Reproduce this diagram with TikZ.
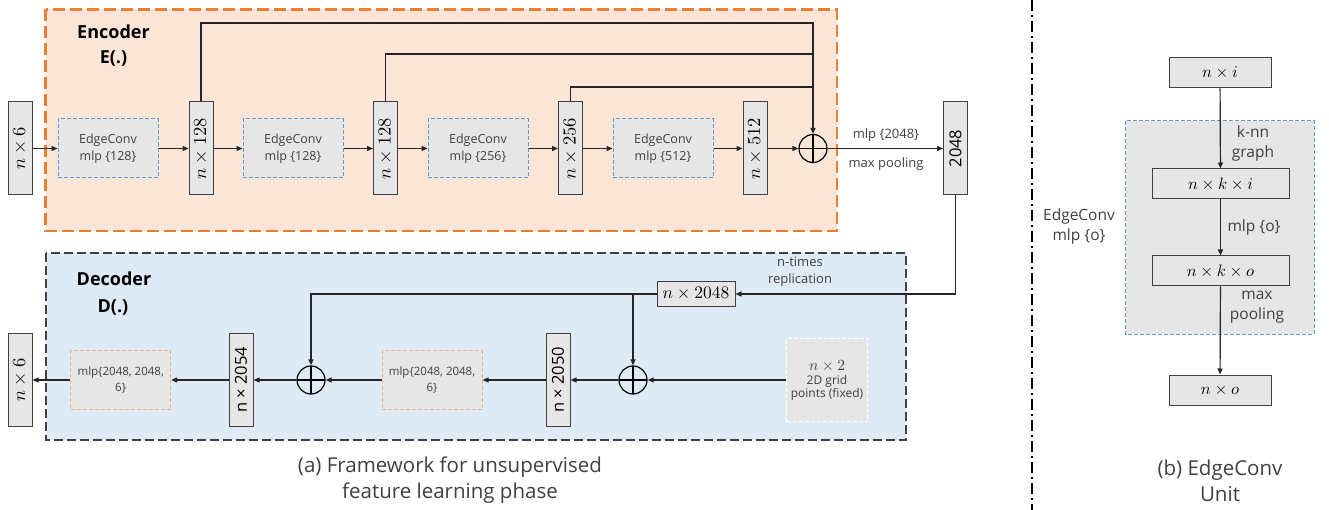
\RequirePackage{fix-cm}
\documentclass[tikz,border=0pt]{standalone}
\usepackage{fontspec}
\usepackage{graphicx}
\setmainfont{Open Sans}
\usetikzlibrary{arrows.meta}
\definecolor{encfill}{HTML}{FBE5D6}
\definecolor{encline}{HTML}{ED7D31}
\definecolor{decfill}{HTML}{DEEBF7}
\definecolor{decline}{HTML}{404040}
\definecolor{boxgray}{HTML}{E7E6E6}
\definecolor{blueline}{HTML}{5B9BD5}
\definecolor{orgline}{HTML}{F4B183}
\definecolor{txt}{HTML}{404040}
\newcommand\mlab[2]{\scalebox{#1}{\fontsize{10}{12}\selectfont$#2$}}
\newcommand\sansbig{\fontsize{16.5}{19}\selectfont}
\begin{document}
\begin{tikzpicture}[x=1pt,y=-1pt,
  conn/.style={line width=1.2pt, draw=black!85},
  arr/.style={conn, -{Triangle[length=6pt,width=5pt]}},
  tall/.style={draw=black!75, fill=boxgray, line width=1pt, minimum width=24pt, minimum height=93pt, inner sep=0pt},
  hbox/.style={draw=black!75, fill=boxgray, line width=1pt, minimum height=24pt, inner sep=0pt},
  rbox/.style={draw=black!75, fill=boxgray, line width=1pt, minimum height=30pt, inner sep=0pt},
  ecbox/.style={draw=blueline, fill=boxgray, line width=1pt, dash pattern=on 4pt off 2pt, minimum width=100pt, minimum height=59pt, inner sep=0pt, align=center, text=txt, font=\fontsize{12.5}{17}\selectfont},
  mlpbox/.style={draw=orgline, fill=boxgray, line width=1pt, dash pattern=on 4pt off 2pt, minimum width=100pt, minimum height=59pt, inner sep=0pt, align=center, text=txt, font=\fontsize{11.5}{16}\selectfont},
  gridbox/.style={draw=white, fill=boxgray, line width=1pt, dash pattern=on 4pt off 2pt, minimum width=81pt, minimum height=83pt, inner sep=0pt, align=center, text=txt, font=\fontsize{12}{15}\selectfont},
  plusnode/.style={circle, draw=black, line width=1.2pt, minimum size=28pt, inner sep=0pt,
    path picture={\draw[line width=1.2pt] (path picture bounding box.north) -- (path picture bounding box.south) (path picture bounding box.west) -- (path picture bounding box.east);}},
  lbl/.style={text=txt, align=center, font=\fontsize{13}{17}\selectfont, inner sep=0pt},
  rlbl/.style={text=txt, align=center, font=\fontsize{15.5}{20}\selectfont, inner sep=0pt},
  ttl/.style={text=black, font=\bfseries\fontsize{18}{22}\selectfont, inner sep=0pt},
  captxt/.style={text=txt, align=center, font=\fontsize{20.5}{26}\selectfont, inner sep=0pt}
]
\useasboundingbox (0,0) rectangle (1329,510);
% encoder background
\draw[encline, fill=encfill, line width=2.5pt, dash pattern=on 12pt off 5pt] (45.7,9.5) rectangle (837,231);
\node[ttl] (enct) at (113.5,32) {Encoder};
\node[ttl] (ence) at (113.5,59) {E(.)};
% encoder row
\node[tall] (in) at (20,148.5) {\rotatebox{90}{\mlab{1.85}{n\times 6}}};
\node[ecbox] (ec1) at (108,148.5) {EdgeConv\\mlp \{128\}};
\node[tall] (b1) at (201,148.5) {\rotatebox{90}{\mlab{1.85}{n\times 128}}};
\node[ecbox] (ec2) at (293,148.5) {EdgeConv\\mlp \{128\}};
\node[tall] (b2) at (385.5,148.5) {\rotatebox{90}{\mlab{1.85}{n\times 128}}};
\node[ecbox] (ec3) at (478,148.5) {EdgeConv\\mlp \{256\}};
\node[tall] (b3) at (570.5,148.5) {\rotatebox{90}{\mlab{1.85}{n\times 256}}};
\node[ecbox] (ec4) at (663,148.5) {EdgeConv\\mlp \{512\}};
\node[tall] (b4) at (755,148.5) {\rotatebox{90}{\mlab{1.85}{n\times 512}}};
\node[plusnode] (pl) at (813,148.5) {};
\node[tall] (o2048) at (955.5,148.5) {\rotatebox{90}{\sansbig 2048}};
\draw[arr] (in) -- (ec1);
\draw[arr] (ec1) -- (b1);
\draw[arr] (b1) -- (ec2);
\draw[arr] (ec2) -- (b2);
\draw[arr] (b2) -- (ec3);
\draw[arr] (ec3) -- (b3);
\draw[arr] (b3) -- (ec4);
\draw[arr] (ec4) -- (b4);
\draw[arr] (b4) -- (pl);
\draw[arr] (pl) -- (o2048);
\node[lbl] (lmlp) at (886,135) {mlp \{2048\}};
\node[lbl] (lmax) at (886,164) {max pooling};
% skips
\coordinate (s1) at (813,23);
\coordinate (s2) at (813,54);
\coordinate (s3) at (813,87);
\draw[arr] (b1.north) |- (s1) -- (pl.north);
\draw[conn] (b2.north) |- (s2);
\draw[conn] (b3.north) |- (s3);
% decoder background
\draw[decline, fill=decfill, line width=1.8pt, dash pattern=on 9pt off 4pt] (45.7,253) rectangle (906,440);
\node[ttl] (dect) at (114,279) {Decoder};
\node[ttl] (decd) at (113,307) {D(.)};
\node[hbox, minimum width=78pt] (n2048) at (696,294) {\mlab{1.75}{n\times 2048}};
\draw[arr] (o2048.south) |- (n2048.east);
\node[lbl] (lrep) at (800,272) {n-times\\replication};
\node[plusnode] (p1) at (311,380) {};
\node[plusnode] (p2) at (633,380) {};
\draw[arr] (n2048.west) -| (p1.north);
\coordinate (br) at (633,294);
\draw[arr] (br) -- (p2.north);
\node[gridbox] (grid) at (827,380) {\mlab{1.55}{n\times 2}\\[-1pt]2D grid\\[-2pt]points (fixed)};
\node[tall] (b2050) at (558,380) {\rotatebox{90}{\sansbig n × 2050}};
\node[mlpbox] (mlp2) at (432,380) {mlp\{2048, 2048,\\6\}};
\node[tall] (b2054) at (241,380) {\rotatebox{90}{\sansbig n × 2054}};
\node[mlpbox] (mlp1) at (120.7,380) {mlp\{2048, 2048,\\6\}};
\node[tall] (out) at (20,380) {\rotatebox{90}{\mlab{1.85}{n\times 6}}};
\draw[arr] (grid) -- (p2);
\draw[arr] (p2) -- (b2050);
\draw[arr] (b2050) -- (mlp2);
\draw[arr] (mlp2) -- (p1);
\draw[arr] (p1) -- (b2054);
\draw[arr] (b2054) -- (mlp1);
\draw[arr] (mlp1) -- (out);
% caption a
\node[captxt] (capa) at (450,480) {(a) Framework for unsupervised\\feature learning phase};
% separator
\draw[line width=2pt, dash pattern=on 11pt off 4pt on 2pt off 4pt] (1032,0) -- (1032,510);
% right panel
\draw[blueline, fill=boxgray, line width=1pt, dash pattern=on 4pt off 2pt] (1125.7,120.7) rectangle (1314,334);
\node[rbox, minimum width=102pt] (ni) at (1220,73) {\mlab{1.65}{n\times i}};
\node[rbox, minimum width=137pt] (nki) at (1220.5,184) {\mlab{1.65}{n\times k\times i}};
\node[rbox, minimum width=137pt] (nko) at (1220.5,271) {\mlab{1.65}{n\times k\times o}};
\node[rbox, minimum width=102pt] (no) at (1220,390) {\mlab{1.65}{n\times o}};
\draw[arr] (ni) -- (nki);
\draw[arr] (nki) -- (nko);
\draw[arr] (nko) -- (no);
\node[rlbl] (lknn) at (1253,143) {k-nn\\graph};
\node[rlbl] (lmo) at (1254,227) {mlp \{o\}};
\node[rlbl] (lmp) at (1257,307) {max\\pooling};
\node[rlbl] (lec) at (1079,226) {EdgeConv\\mlp \{o\}};
\node[captxt] (capb) at (1220,480.5) {(b) EdgeConv\\Unit};
\end{tikzpicture}
\end{document}
